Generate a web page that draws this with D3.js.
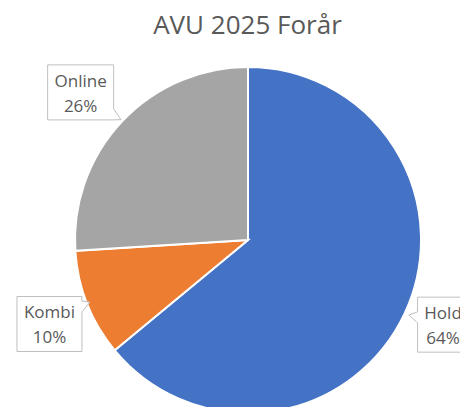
<!DOCTYPE html>
<html>
<head>
<meta charset="utf-8">
<script src="https://cdn.jsdelivr.net/npm/d3@7"></script>
<style>
  body { margin: 0; background: #fff; }
  text { font-family: "Open Sans", sans-serif; fill: #595959; }
</style>
</head>
<body>
<div id="graph"></div>
<script>
// Données
categories = ["Hold", "Kombi", "Online"];
values = [64, 10, 26];
colors = ["#4472C4", "#ED7D31", "#A5A5A5"];
title = "AVU 2025 Forår";

// Dimensions
width = 460;
height = 407;
cx = 248; cy = 240;
radius = 173;
labelRadius = 220;
// petits décalages des étiquettes (comme Excel)
labelNudge = [[-4, -9], [6, 3], [-7, 3]];
boxH = 55;
pad = 7;

svg = d3.select("#graph").append("svg")
    .attr("width", width)
    .attr("height", height);

svg.append("text")
    .attr("x", 247.5)
    .attr("y", 34)
    .attr("text-anchor", "middle")
    .style("font-size", "26px")
    .text(title);

g = svg.append("g").attr("transform", "translate(" + cx + "," + cy + ")");

pie = d3.pie().sort(null).value(d => d.v);
data = pie(categories.map((c, i) => ({c: c, v: values[i], i: i})));

arc = d3.arc().innerRadius(0).outerRadius(radius);

g.selectAll("path.slice")
    .data(data)
    .enter()
    .append("path")
    .attr("class", "slice")
    .attr("d", arc)
    .attr("fill", d => colors[d.data.i])
    .attr("stroke", "#fff")
    .attr("stroke-width", 2);

// Étiquettes avec bulle
labelArc = d3.arc().innerRadius(labelRadius).outerRadius(labelRadius);
edgeArc = d3.arc().innerRadius(radius).outerRadius(radius);

data.forEach(function(d) {
    var c = labelArc.centroid(d);
    var n = labelNudge[d.data.i];
    var bx = c[0] + n[0], by = c[1] + n[1];

    var box = g.append("path")
        .attr("fill", "#fff")
        .attr("stroke", "#BFBFBF")
        .attr("stroke-width", 1);
    var lt = g.append("text")
        .attr("text-anchor", "middle")
        .style("font-size", "17px");
    var y0 = by - boxH / 2;
    var t1 = lt.append("tspan").attr("x", bx).attr("y", y0 + 22).text(d.data.c);
    var t2 = lt.append("tspan").attr("x", bx).attr("y", y0 + 47).text(d.data.v + "%");
    var tw = Math.max(t1.node().getComputedTextLength(), t2.node().getComputedTextLength());
    var boxW = Math.round(tw + 2 * pad);

    var t = edgeArc.centroid(d);
    var dx = t[0] - bx, dy = t[1] - by;
    var hw = boxW / 2, hh = boxH / 2;
    var tx = Math.abs(hw / dx), ty = Math.abs(hh / dy);
    var len = Math.sqrt(dx * dx + dy * dy);
    var ux = dx / len, uy = dy / len;
    var pts;
    var x0 = bx - hw, x1 = bx + hw, y1 = by + hh;
    var b = 5.5;
    if (tx < ty) {
        // bord gauche ou droit
        var py = Math.max(y0 + b, Math.min(y1 - b, by + dy * tx));
        var ex = dx > 0 ? x1 : x0;
        var tip = [ex + ux * 9, py + uy * 9];
        if (dx > 0) {
            pts = [[x0, y0], [x1, y0], [x1, py - b], tip, [x1, py + b], [x1, y1], [x0, y1]];
        } else {
            pts = [[x0, y0], [x1, y0], [x1, y1], [x0, y1], [x0, py + b], tip, [x0, py - b]];
        }
    } else {
        var px = Math.max(x0 + b, Math.min(x1 - b, bx + dx * ty));
        var tip2 = [px + ux * 9, (dy > 0 ? y1 : y0) + uy * 9];
        if (dy > 0) {
            pts = [[x0, y0], [x1, y0], [x1, y1], [px + b, y1], tip2, [px - b, y1], [x0, y1]];
        } else {
            pts = [[x0, y0], [px - b, y0], tip2, [px + b, y0], [x1, y0], [x1, y1], [x0, y1]];
        }
    }
    box.attr("d", d3.line()(pts) + "Z");
});
</script>
</body>
</html>
